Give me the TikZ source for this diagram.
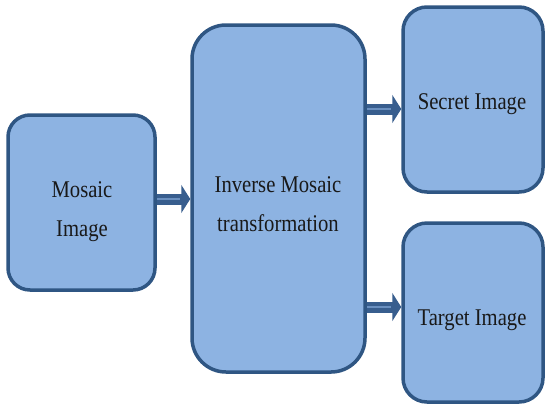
\documentclass[tikz,border=0pt]{standalone}
\usepackage{fontspec}
\setmainfont{Liberation Serif}[FakeStretch=0.86]
\usetikzlibrary{arrows.meta}
\definecolor{boxfill}{HTML}{8DB3E2}
\definecolor{boxline}{HTML}{2F5683}
\definecolor{arrdark}{HTML}{385E8E}
\definecolor{arrlight}{HTML}{6A90C0}
\tikzset{
  blk/.style={draw=boxline, line width=3.5pt, fill=boxfill, rounded corners=#1,
    inner sep=0pt},
  blk/.default=22pt,
  lbl/.style={align=center, font=\fontsize{24}{39}\selectfont, text=black!90},
  conn/.style={draw=arrdark, line width=11pt, -{Triangle[width=28pt,length=9pt]}},
  connhi/.style={draw=arrlight, line width=2.5pt, shorten >=10pt}
}
\begin{document}
\begin{tikzpicture}[x=1pt,y=-1pt]
\useasboundingbox (0,0) rectangle (545,405);
\node[blk, minimum width=147pt, minimum height=175pt] (mos) at (81.5,202.5) {};
\node[lbl] (mostxt) at (82,212) {Mosaic\\Image};
\node[blk=34pt, minimum width=173pt, minimum height=347pt] (inv) at (278.5,198.5) {};
\node[lbl] (invtxt) at (278,204) {Inverse Mosaic\\transformation};
\node[blk=24pt, minimum width=140pt, minimum height=185pt] (sec) at (473,99.5) {};
\node[lbl] (sectxt) at (472,104) {Secret Image};
\node[blk=24pt, minimum width=140pt, minimum height=179pt] (tar) at (473,312.5) {};
\node[lbl] (tartxt) at (472,320) {Target Image};
\draw[conn] (mos.east |- 0,199) -- (inv.west |- 0,199);
\draw[connhi] (mos.east |- 0,199) -- (inv.west |- 0,199);
\draw[conn] (inv.east |- 0,109) -- (sec.west |- 0,109);
\draw[connhi] (inv.east |- 0,109) -- (sec.west |- 0,109);
\draw[conn] (inv.east |- 0,307) -- (tar.west |- 0,307);
\draw[connhi] (inv.east |- 0,307) -- (tar.west |- 0,307);
\end{tikzpicture}
\end{document}
